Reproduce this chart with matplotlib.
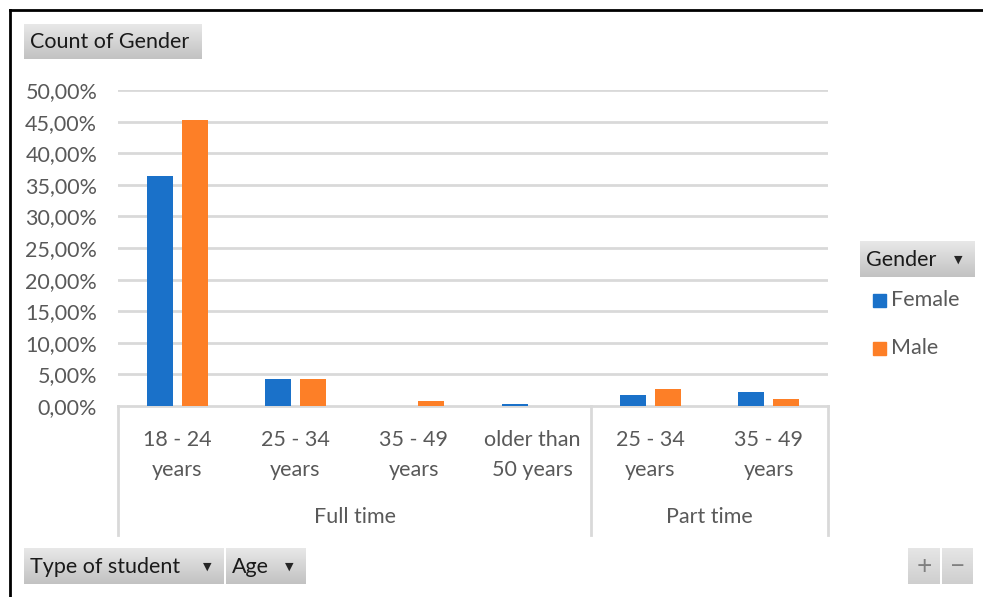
import matplotlib
matplotlib.use("Agg")
import matplotlib.pyplot as plt
import numpy as np
from matplotlib.patches import Rectangle
from matplotlib.lines import Line2D
import matplotlib.transforms as mtransforms

plt.rcParams['font.family'] = ['Lato', 'DejaVu Sans']

# ---------------- data ----------------
groups = ["Full time", "Part time"]
group_sizes = [4, 2]
age_labels = ["18 - 24\nyears", "25 - 34\nyears", "35 - 49\nyears", "older than\n50 years",
              "25 - 34\nyears", "35 - 49\nyears"]
female = [36.4, 4.27, 0.0, 0.37, 1.8, 2.2]
male = [45.2, 4.27, 0.74, 0.0, 2.64, 1.1]
series_names = ["Female", "Male"]
yticks = [0, 5, 10, 15, 20, 25, 30, 35, 40, 45, 50]

BLUE = "#1a71c9"
ORANGE = "#fd7f27"
GRID = "#d9d9d9"
TXT = "#595959"
FS = 15.5

W, H = 983, 597
fig = plt.figure(figsize=(W / 100, H / 100), dpi=100)
fig.patch.set_facecolor("white")


def fx(x):
    return x / W


def fy(y):
    return 1 - y / H


# border (top and left)
fig.add_artist(Line2D([fx(10), fx(983)], [fy(10), fy(10)], color="black", lw=2))
fig.add_artist(Line2D([fx(10), fx(10)], [fy(10), fy(597)], color="black", lw=2))

# main axes: x 118..828, y 90..406
ax = fig.add_axes([fx(118), fy(406), fx(828 - 118), (406 - 90) / H])
n = len(age_labels)
x = np.arange(n)
bw = 0.22
off = 0.147
ax.bar(x - off, female, width=bw, color=BLUE, label=series_names[0], zorder=3)
ax.bar(x + off, male, width=bw, color=ORANGE, label=series_names[1], zorder=3)
ax.set_xlim(-0.5, n - 0.5)
ax.set_ylim(0, 50)
ax.set_yticks(yticks)
ax.set_yticklabels([f"{v:.2f}%".replace(".", ",") for v in yticks])
ax.tick_params(axis="y", length=0, pad=15, labelsize=FS, labelcolor=TXT)
ax.set_xticks([])
for v in yticks[1:]:
    ax.axhline(v, color=GRID, lw=2, zorder=1)
for s in ["top", "right", "left"]:
    ax.spines[s].set_visible(False)
ax.spines["bottom"].set_color(GRID)
ax.spines["bottom"].set_linewidth(2)

trans = mtransforms.blended_transform_factory(ax.transData, ax.transAxes)
ybot = -(535 - 406) / (406 - 90)
bounds = [-0.5]
for g in group_sizes:
    bounds.append(bounds[-1] + g)
for b in bounds:
    ax.plot([b, b], [0, ybot], transform=trans, color=GRID, lw=2, clip_on=False)

for i, lab in enumerate(age_labels):
    ax.text(i, -(455 - 406) / 316, lab, transform=trans, ha="center", va="center",
            fontsize=FS, color=TXT, linespacing=1.65)
for gi, g in enumerate(groups):
    c = (bounds[gi] + bounds[gi + 1]) / 2
    ax.text(c, -(517 - 406) / 316, g, transform=trans, ha="center", va="center",
            fontsize=FS, color=TXT)


# buttons
def button(x0, y0, x1, y1, text=None, tx=None, arrow_x=None, light=False, tcolor="#1a1a1a",
           tsize=FS, center=False):
    bax = fig.add_axes([fx(x0), fy(y1), fx(x1 - x0), (y1 - y0) / H])
    if light:
        grad = np.linspace(0.90, 0.81, 50)
    else:
        grad = np.linspace(0.91, 0.76, 50)
    img = np.repeat(grad[:, None], 2, axis=1)
    bax.imshow(np.dstack([img, img, img]), aspect="auto", extent=[0, 1, 0, 1],
               interpolation="bilinear")
    bax.set_xlim(0, 1)
    bax.set_ylim(0, 1)
    bax.axis("off")
    if text is not None:
        if center:
            fig.text(fx((x0 + x1) / 2), fy((y0 + y1) / 2), text, ha="center", va="center",
                     fontsize=tsize, color=tcolor)
        else:
            fig.text(fx(tx), fy((y0 + y1) / 2 + 1), text, ha="left", va="center",
                     fontsize=tsize, color=tcolor)
    if arrow_x is not None:
        fig.text(fx(arrow_x), fy((y0 + y1) / 2 + 1), "\u25BC", ha="center", va="center",
                 fontsize=8, color="#262626", family="DejaVu Sans")


button(24, 24, 202, 59, "Count of Gender", tx=30)
button(860, 241, 975, 277, "Gender", tx=866, arrow_x=958)
button(24, 548, 224, 584, "Type of student", tx=30, arrow_x=207)
button(226, 548, 306, 584, "Age", tx=232, arrow_x=289)
button(908, 548, 940, 584, "+", light=True, tcolor="#808080", tsize=19, center=True)
button(942, 548, 973, 584, "\u2212", light=True, tcolor="#808080", tsize=19, center=True)

# legend
for name, col, yc in [(series_names[0], BLUE, 300), (series_names[1], ORANGE, 348)]:
    fig.add_artist(Rectangle((fx(873), fy(yc + 6.5)), fx(13), 13 / H, color=col,
                             transform=fig.transFigure))
    fig.text(fx(891), fy(yc), name, ha="left", va="center", fontsize=FS, color=TXT)

fig.savefig("out.png", dpi=100)
